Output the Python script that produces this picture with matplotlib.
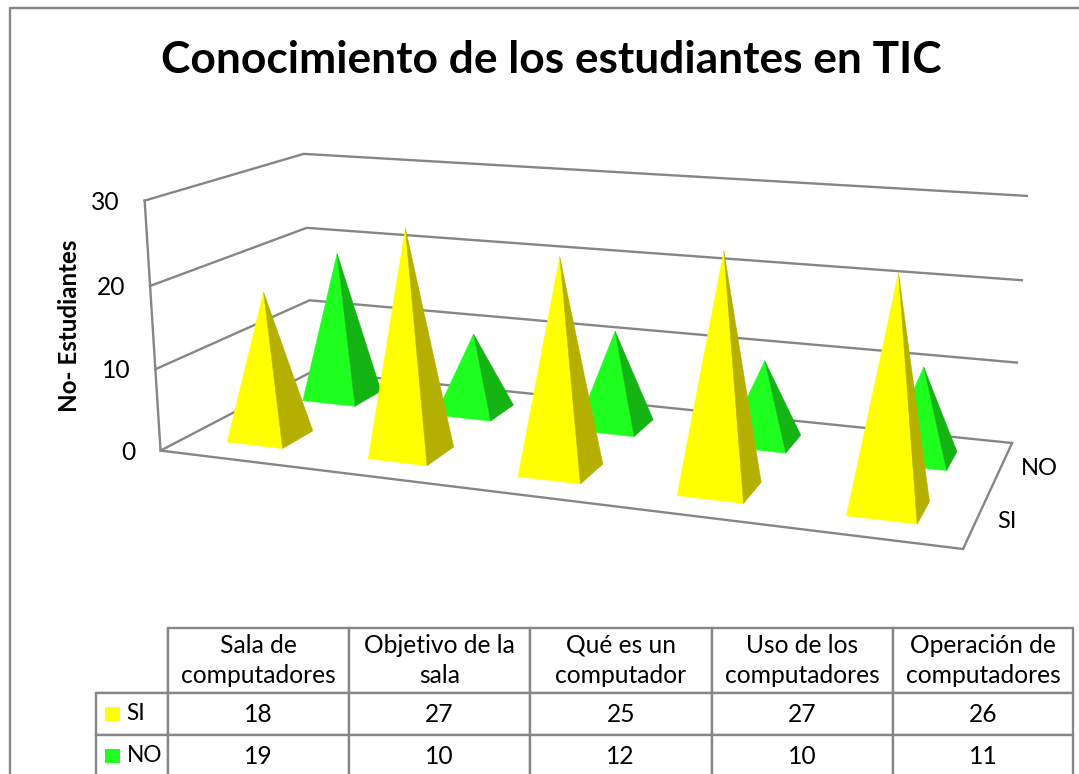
import numpy as np
import matplotlib
matplotlib.use("Agg")
import matplotlib.pyplot as plt
from matplotlib.patches import Polygon, Rectangle

plt.rcParams['font.family'] = ['Lato', 'DejaVu Sans']

# ---- data ----
title = "Conocimiento de los estudiantes en TIC"
ylabel = "No- Estudiantes"
categories = ["Sala de\ncomputadores", "Objetivo de la\nsala", "Qué es un\ncomputador",
              "Uso de los\ncomputadores", "Operación de\ncomputadores"]
series_names = ["SI", "NO"]
si_values = [18, 27, 25, 27, 26]
no_values = [19, 10, 12, 10, 11]
y_ticks = [0, 10, 20, 30]
y_max = 30

# ---- style ----
W, H = 1079, 774
GRAY = "#868686"
LW = 1.7
FRONT = {"SI": "#FFFF00", "NO": "#1FFF1F"}
SIDE = {"SI": "#B5B000", "NO": "#14B414"}
TXT = 17.7

fig = plt.figure(figsize=(W / 100, H / 100), dpi=100)
ax = fig.add_axes([0, 0, 1, 1])
ax.set_xlim(0, W)
ax.set_ylim(H, 0)
ax.axis("off")

# camera of the 3-D plot box: (u along categories, w into the depth, h up) -> page position
CALIB = [
    ((0, 0, 0), (160, 451)), ((0, 0, 1/3), (156, 369)), ((0, 0, 2/3), (150.7, 285.7)), ((0, 0, 1), (144, 200.7)),
    ((0, 1, 1/3), (310, 300)), ((0, 1, 2/3), (306, 228)), ((0, 1, 1), (304, 154)),
    ((1, 1, 0), (1012, 443)), ((1, 1, 1/3), (1017, 362.7)), ((1, 1, 2/3), (1022, 280)), ((1, 1, 1), (1027, 196)),
    ((1, 0, 0), (963, 549)),
]
rows = []
for (u, w, h), (x, y) in CALIB:
    rows.append([u, w, h, 1, 0, 0, 0, 0, -x * u, -x * w, -x * h, -x])
    rows.append([0, 0, 0, 0, u, w, h, 1, -y * u, -y * w, -y * h, -y])
CAM = np.linalg.svd(np.array(rows, float))[2][-1].reshape(3, 4)


def project(u, w, value):
    q = CAM @ np.array([u, w, value / y_max, 1.0])
    return q[:2] / q[2]


# walls and floor
for v in y_ticks:
    pts = [project(0, 0, v), project(0, 1, v), project(1, 1, v)]
    ax.plot(*zip(*pts), color=GRAY, lw=LW, solid_joinstyle="miter", zorder=1)
    x, y = project(0, 0, v)
    ax.text(x - 25, y + 1.5, str(v), ha="right", va="center", fontsize=TXT, color="black")
ax.plot(*zip(*[project(0, 0, 30), project(0, 0, 0), project(1, 0, 0), project(1, 1, 0)]),
        color=GRAY, lw=LW, solid_joinstyle="miter", zorder=1)

# pyramids, back row first
HALF_U = 0.04
HALF_W = 0.10
z = 2
for j, (name, vals) in reversed(list(enumerate(zip(series_names, [si_values, no_values])))):
    wc = (j + 0.5) / 2
    for i, v in enumerate(vals):
        uc = (i + 0.5) / len(vals)
        fl = project(uc - HALF_U, wc - HALF_W, 0)
        fr = project(uc + HALF_U, wc - HALF_W, 0)
        br = project(uc + HALF_U, wc + HALF_W, 0)
        apex = project(uc, wc, v)
        ax.add_patch(Polygon([fl, fr, apex], closed=True, fc=FRONT[name], ec=FRONT[name], lw=0.3, zorder=z))
        ax.add_patch(Polygon([fr, br, apex], closed=True, fc=SIDE[name], ec=SIDE[name], lw=0.3, zorder=z))
        z += 1

# depth-axis labels
label_off = [(30, 2), (38, 2)]
for j, name in enumerate(series_names):
    x, y = project(1, (j + 0.5) / 2, 0)
    ax.text(x + label_off[j][0], y + label_off[j][1], name, ha="center", va="center", fontsize=17, color="black")

ax.text(551.5, 60, title, ha="center", va="center", fontsize=31.9, fontweight="bold", color="black")
ax.text(69.5, 326, ylabel, rotation=90, ha="center", va="center", fontsize=17.4, fontweight="bold", color="black")

# outer frame
ax.plot([10, 10, W], [H, 7.5, 7.5], color=GRAY, lw=LW, zorder=1)

# data table
cols_px = [95.7, 168, 349, 530, 711.5, 893, 1073]
rows_px = [628, 693, 735, 777]
cell_text = [[""] + categories,
             [series_names[0]] + [str(v) for v in si_values],
             [series_names[1]] + [str(v) for v in no_values]]
bbox = [cols_px[0] / W, 1 - rows_px[-1] / H, (cols_px[-1] - cols_px[0]) / W, (rows_px[-1] - rows_px[0]) / H]
col_w = list(np.diff(cols_px) / (cols_px[-1] - cols_px[0]))
tab = ax.table(cellText=cell_text, colWidths=col_w, bbox=bbox, cellLoc="center")
tab.auto_set_font_size(False)
tab.set_fontsize(TXT)
row_h = np.diff(rows_px)
for (r, c), cell in tab.get_celld().items():
    cell.set_height(row_h[r] / H)
    cell.set_edgecolor(GRAY)
    cell.set_linewidth(LW)
    cell.set_clip_on(False)
    if r == 0:
        cell.get_text().set_linespacing(1.42)
    if r == 0 and c == 0:
        cell.visible_edges = "BR"
    if c == 0 and r > 0:
        cell.PAD = 0.43
        cell.get_text().set_ha("left")
        cell.get_text().set_fontsize(16.3)
        cell._loc = "left"

# legend keys inside the table
for r, name in enumerate(series_names):
    y0 = rows_px[r + 1] + 13.5
    ax.add_patch(Rectangle((105.3, y0), 14.7, 14.5, fc=FRONT[name], ec="none", zorder=5))

fig.savefig("out.png", dpi=100)
